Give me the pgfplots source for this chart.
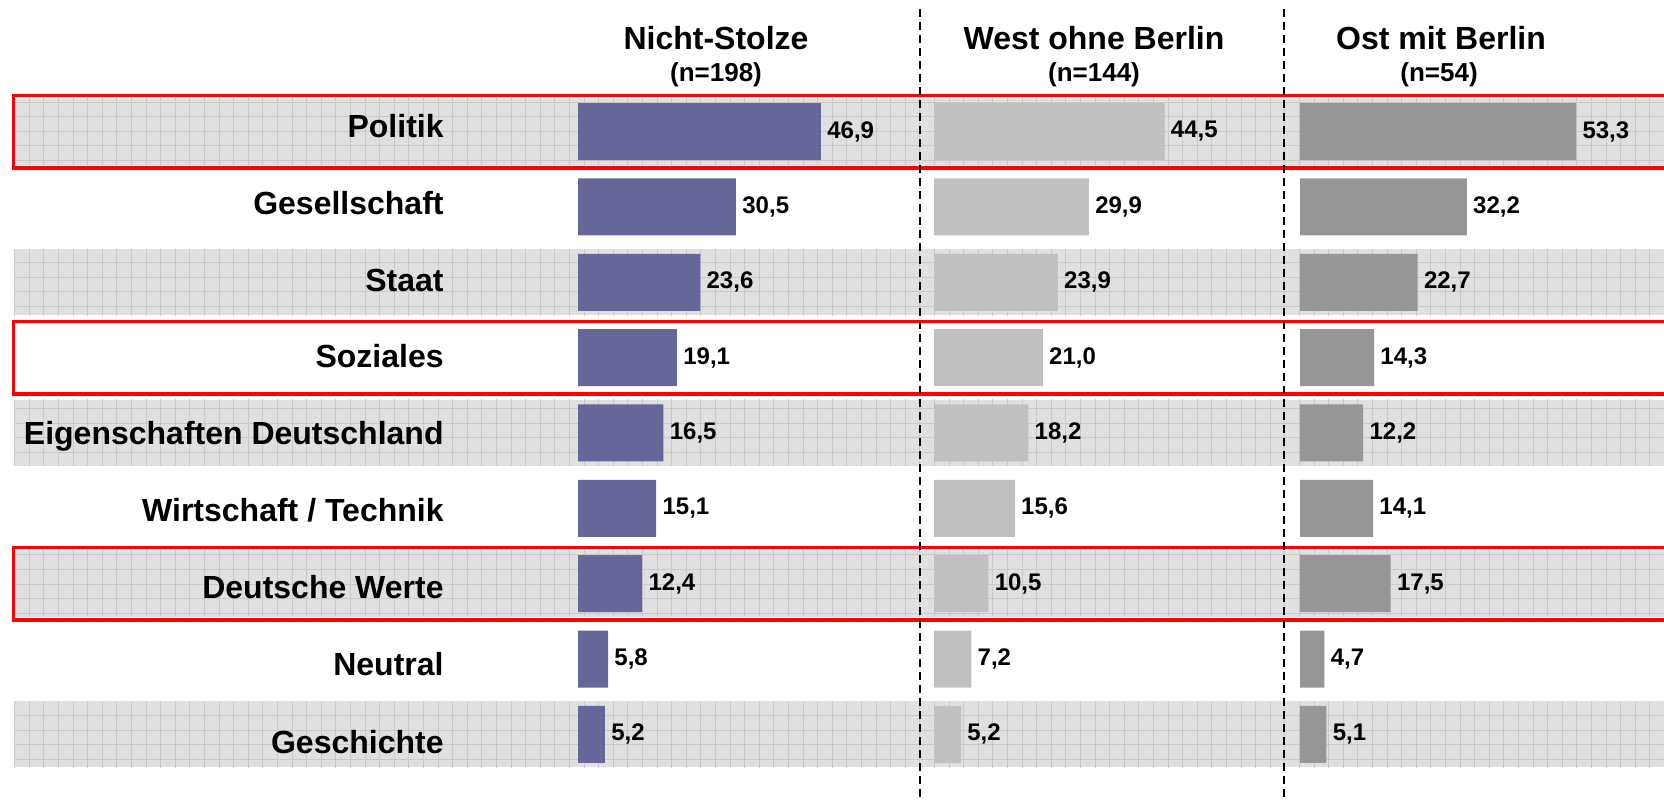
\documentclass[border=0pt]{standalone}
\usepackage{pgfplots}
\pgfplotsset{compat=1.18}
\usepackage{fontspec}
\setmainfont{Liberation Sans}
\definecolor{cNS}{HTML}{666699}
\definecolor{cW}{HTML}{C0C0C0}
\definecolor{cO}{HTML}{969696}
\definecolor{bandbg}{HTML}{E0E0E0}
\definecolor{bandgrid}{HTML}{C9C9C9}
\definecolor{boxred}{HTML}{FF0000}

\pgfplotsset{panel/.style={
  scale only axis, anchor=north west,
  x=2.59pt, y=37.675pt, y dir=reverse,
  xmin=0, xmax=60, ymin=-0.5, ymax=8.5,
  axis line style={draw=none}, xtick=\empty, ytick=\empty,
  major tick length=0pt, clip=false,
  xbar, bar width=28.5pt, bar shift=0pt,
  point meta=x,
  nodes near coords, nodes near coords align={horizontal},
  every node near coord/.append style={font=\bfseries\fontsize{12}{14}\selectfont, anchor=west, inner sep=0pt, xshift=3pt, text=black},
  /pgf/number format/fixed, /pgf/number format/fixed zerofill,
  /pgf/number format/precision=1, /pgf/number format/use comma,
  /pgf/number format/assume math mode=true
}}

\begin{document}
\begin{tikzpicture}
\useasboundingbox (0,0) rectangle (832pt,-400.5pt);
\begin{scope}[x=0.5pt,y=-0.5pt]
  \foreach \i in {0,2,4,6,8} {
    \pgfmathsetmacro{\c}{131.6+75.35*\i}
    \fill[bandbg] (14,\c-33) rectangle (1664,\c+33);
    \begin{scope}
      \clip (14,\c-33) rectangle (1664,\c+33);
      \draw[bandgrid, line width=0.5pt, step=7.3pt] (0pt,0pt) grid (832pt,-400.5pt);
    \end{scope}
  }
  \foreach \i in {0,3,6} {
    \pgfmathsetmacro{\c}{131.6+75.35*\i}
    \draw[boxred, line width=1.75pt] (1700,\c-36) -- (13.5,\c-36) -- (13.5,\c+36.5) -- (1700,\c+36.5);
  }
\end{scope}

\begin{axis}[panel, at={(289pt,-46.95pt)},
  ytick={0.072,1.094,2.116,3.137,4.159,5.181,6.203,7.225,8.247},
  yticklabels={Politik,Gesellschaft,Staat,Soziales,Eigenschaften Deutschland,Wirtschaft / Technik,Deutsche Werte,Neutral,Geschichte},
  yticklabel style={font=\bfseries\fontsize{16}{19}\selectfont, anchor=base east, inner sep=0pt, xshift=-67pt}]
\addplot[fill=cNS, draw=none] coordinates {(46.9,0) (30.5,1) (23.6,2) (19.1,3) (16.5,4) (15.1,5) (12.4,6) (5.8,7) (5.2,8)};
\end{axis}

\begin{axis}[panel, at={(467pt,-46.95pt)}]
\addplot[fill=cW, draw=none] coordinates {(44.5,0) (29.9,1) (23.9,2) (21.0,3) (18.2,4) (15.6,5) (10.5,6) (7.2,7) (5.2,8)};
\end{axis}

\begin{axis}[panel, at={(650pt,-46.95pt)}]
\addplot[fill=cO, draw=none] coordinates {(53.3,0) (32.2,1) (22.7,2) (14.3,3) (12.2,4) (14.1,5) (17.5,6) (4.7,7) (5.1,8)};
\end{axis}

\begin{scope}[x=0.5pt,y=-0.5pt]
  \draw[black, line width=1pt, dash pattern=on 4pt off 2.5pt] (920,9) -- (920,815);
  \draw[black, line width=1pt, dash pattern=on 4pt off 2.5pt] (1283.5,9) -- (1283.5,815);
  \node[anchor=base, inner sep=0pt, font=\bfseries\fontsize{16}{19}\selectfont] at (716,50) {Nicht-Stolze};
  \node[anchor=base, inner sep=0pt, font=\bfseries\fontsize{13}{16}\selectfont] at (716,81.5) {(n=198)};
  \node[anchor=base, inner sep=0pt, font=\bfseries\fontsize{16}{19}\selectfont] at (1094,50) {West ohne Berlin};
  \node[anchor=base, inner sep=0pt, font=\bfseries\fontsize{13}{16}\selectfont] at (1094,81.5) {(n=144)};
  \node[anchor=base, inner sep=0pt, font=\bfseries\fontsize{16}{19}\selectfont] at (1441,50) {Ost mit Berlin};
  \node[anchor=base, inner sep=0pt, font=\bfseries\fontsize{13}{16}\selectfont] at (1439,81.5) {(n=54)};
\end{scope}
\end{tikzpicture}
\end{document}
